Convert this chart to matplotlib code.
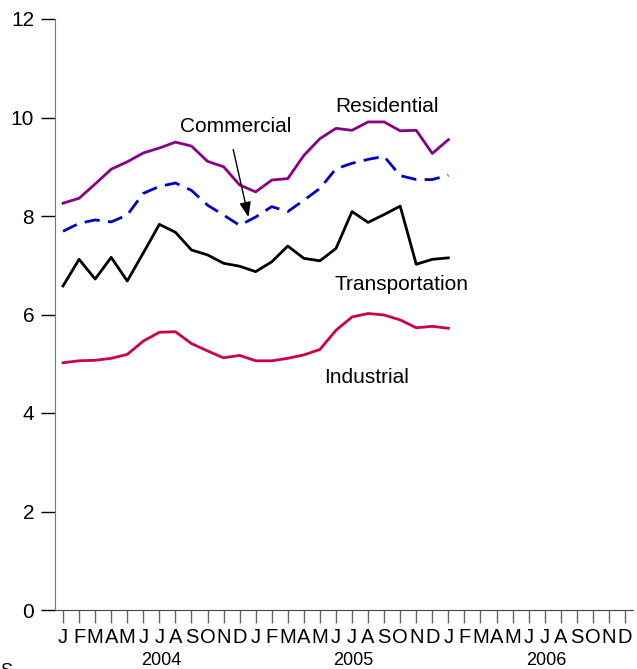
from matplotlib import pyplot as plt
import numpy as np

plt.rcParams['font.family'] = ['Liberation Sans', 'DejaVu Sans']

# monthly values, Jan 2004 .. Jan 2006
residential = [8.26, 8.36, 8.65, 8.95, 9.10, 9.28, 9.38, 9.50, 9.42, 9.11, 9.00, 8.63,
               8.49, 8.73, 8.76, 9.23, 9.57, 9.78, 9.74, 9.91, 9.91, 9.73, 9.74, 9.27, 9.55]
commercial = [7.69, 7.85, 7.92, 7.88, 8.02, 8.46, 8.60, 8.67, 8.52, 8.22, 8.02, 7.81,
              7.98, 8.19, 8.09, 8.32, 8.56, 8.96, 9.07, 9.15, 9.21, 8.82, 8.74, 8.74, 8.83]
transportation = [6.58, 7.12, 6.72, 7.16, 6.68, 7.25, 7.83, 7.67, 7.31, 7.21, 7.04, 6.98,
                  6.87, 7.07, 7.39, 7.14, 7.09, 7.34, 8.09, 7.87, 8.03, 8.20, 7.02, 7.12, 7.15]
industrial = [5.02, 5.06, 5.07, 5.11, 5.19, 5.46, 5.64, 5.65, 5.41, 5.26, 5.12, 5.17,
              5.06, 5.06, 5.11, 5.18, 5.29, 5.68, 5.95, 6.02, 5.99, 5.89, 5.73, 5.76, 5.72]

month_letters = list("JFMAMJJASOND") * 3
years = ["2004", "2005", "2006"]
yticks = [0, 2, 4, 6, 8, 10, 12]

fig = plt.figure(figsize=(6.37, 6.69), dpi=100)
ax = fig.add_axes([55 / 637, 59 / 669, 578 / 637, 591 / 669])

x = np.arange(len(residential))
ax.plot(x, residential, color='#880088', lw=2)
ax.plot(x, commercial, color='#0000cc', lw=2, dashes=(5.5, 3))
ax.plot(x, transportation, color='black', lw=2)
ax.plot(x, industrial, color='#cc0050', lw=2)

ax.set_xlim(-0.5, 35.5)
ax.set_ylim(0, 12)

for s in ['top', 'right']:
    ax.spines[s].set_visible(False)
ax.spines['left'].set_color('#777777')
ax.spines['bottom'].set_color('#444444')

ax.set_yticks(yticks)
ax.set_yticklabels([str(v) for v in yticks])
ax.tick_params(axis='y', length=10, width=1, color='black', labelsize=15, pad=5)

ax.set_xticks(np.arange(36))
ax.set_xticklabels(month_letters)
ax.tick_params(axis='x', length=9, width=1, color='#666666', labelsize=14.5, pad=4)

for i, yr in enumerate(years):
    ax.text(12 * i + 6.1, -1.02, yr, ha='center', va='center', fontsize=13,
            clip_on=False)

ax.text(16.93, 10.23, "Residential", fontsize=15, va='center')
ax.text(7.28, 9.81, "Commercial", fontsize=15, va='center')
ax.text(16.93, 6.60, "Transportation", fontsize=15, va='center')
ax.text(16.25, 4.73, "Industrial", fontsize=15, va='center')

ax.annotate("", xy=(11.55, 7.98), xytext=(10.6, 9.35),
            arrowprops=dict(arrowstyle='-|>,head_length=0.9,head_width=0.35',
                            color='black', lw=1, shrinkA=0, shrinkB=0))

fig.text(0.0, 6 / 669, "S", fontsize=13, va='top', ha='left')

plt.savefig('out.png', dpi=100)
plt.close(fig)
